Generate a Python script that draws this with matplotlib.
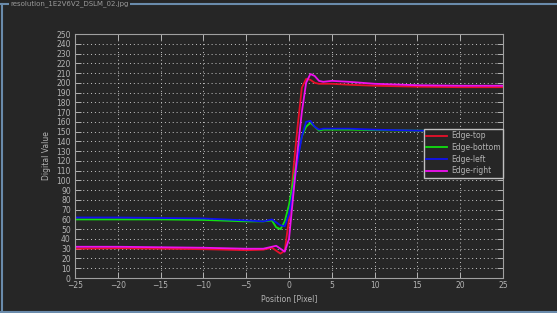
import matplotlib.pyplot as plt
from matplotlib.lines import Line2D

pos = [-25, -20, -15, -10, -5, -3, -2, -1.5, -1, -0.5, 0, 0.5, 1, 1.5, 2, 2.5, 3, 3.5, 4, 5, 7, 10, 15, 20, 25]

edge_top = [30, 30.5, 30, 29.5, 28.5, 29, 31, 28, 25, 28, 60, 110, 155, 195, 204, 203, 200, 199, 199, 199, 198, 197, 196, 195.5, 195.5]
edge_bottom = [60, 60, 60, 59.5, 58, 58, 59, 52, 50, 58, 75, 100, 125, 145, 155, 159, 155, 151, 152, 152, 152, 151.5, 151, 150.5, 150]
edge_left = [62, 62, 61.5, 61, 59, 58, 60, 57, 54, 53, 65, 90, 120, 145, 160, 161, 155, 152, 153, 153, 153, 152, 151, 150.5, 150]
edge_right = [32, 32, 31.5, 31, 30, 30, 32, 33, 30, 27, 40, 85, 130, 170, 200, 209, 207, 202, 201, 202, 201, 199, 197.5, 197, 197]

labels = ['Edge-top', 'Edge-bottom', 'Edge-left', 'Edge-right']
colors = ['#e8102a', '#10e010', '#1010f0', '#f010f0']

bg = '#262626'
fg = '#b4b4b4'

fig = plt.figure(figsize=(5.57, 3.13), dpi=100, facecolor=bg)
ax = fig.add_axes([75 / 557, 35 / 313, 428 / 557, 244 / 313], facecolor=bg)

for y, lab, c in zip([edge_top, edge_bottom, edge_left, edge_right], labels, colors):
    ax.plot(pos, y, color=c, lw=1.3, label=lab)

ax.set_xlim(-25, 25)
ax.set_ylim(0, 250)
ax.set_xticks(range(-25, 26, 5))
ax.set_yticks(range(0, 251, 10))
ax.grid(True, color='#c8c8c8', linestyle=(0, (1, 3)), linewidth=0.7)
ax.tick_params(direction='in', length=4, width=0.7, colors=fg, labelsize=5.5,
               top=True, right=True, pad=2)
ax.tick_params(axis='y', pad=3)
for s in ax.spines.values():
    s.set_color('#a0a0a0')
    s.set_linewidth(0.8)
ax.set_xlabel('Position [Pixel]', color=fg, fontsize=5.5, labelpad=3)
ax.set_ylabel('Digital Value', color=fg, fontsize=5.5, labelpad=4)

leg = ax.legend(loc='upper right', bbox_to_anchor=(1.0, 0.611), fontsize=5.5,
                facecolor=bg, edgecolor='#c0c0c0', framealpha=1, fancybox=False,
                handlelength=2.8, handletextpad=0.5, borderpad=0.3,
                labelspacing=0.35, borderaxespad=0)
for t in leg.get_texts():
    t.set_color(fg)

# window frame
border = '#6a8bab'
fig.add_artist(Line2D([0, 1], [1 - 3.5 / 313, 1 - 3.5 / 313], color=border, lw=1.5))
fig.add_artist(Line2D([1.5 / 557, 1.5 / 557], [1.5 / 313, 1 - 3.5 / 313], color=border, lw=1.5))
fig.add_artist(Line2D([0, 1], [1.5 / 313, 1.5 / 313], color=border, lw=1.5))
fig.text(10 / 557, 1 - 4 / 313, 'resolution_1E2V6V2_DSLM_02.jpg', color='#9a9a9a',
         fontsize=5, va='center', ha='left',
         bbox=dict(facecolor=bg, edgecolor='none', pad=1))

fig.savefig('out.png', dpi=100, facecolor=bg)
